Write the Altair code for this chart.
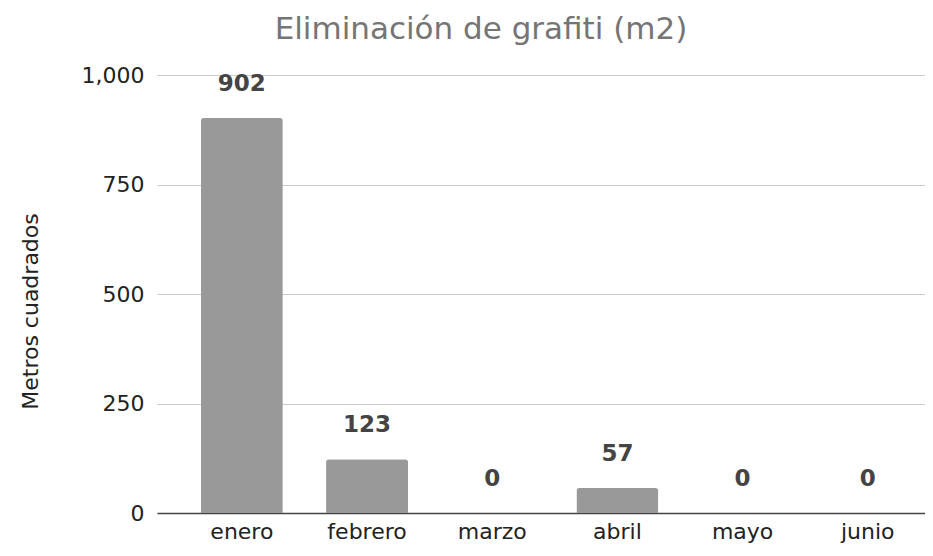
import altair as alt
import pandas as pd

months = ["enero", "febrero", "marzo", "abril", "mayo", "junio"]
values = [902, 123, 0, 57, 0, 0]
y_ticks = [0, 250, 500, 750, 1000]

df = pd.DataFrame({"mes": months, "m2": values})

FONT = "DejaVu Sans"

x_enc = alt.X(
    "mes:N",
    sort=months,
    title=None,
    scale=alt.Scale(paddingInner=0.345, paddingOuter=0.24, align=0.73),
    axis=alt.Axis(
        labelAngle=0,
        labelFontSize=22,
        labelColor="#222222",
        labelFont=FONT,
        labelPadding=8,
        ticks=False,
        domainColor="#444444",
        domainWidth=1.5,
        grid=False,
    ),
)

y_enc = alt.Y(
    "m2:Q",
    title="Metros cuadrados",
    scale=alt.Scale(domain=[0, 1000], nice=False),
    axis=alt.Axis(
        values=y_ticks,
        format=",d",
        labelFontSize=22,
        labelColor="#222222",
        labelFont=FONT,
        labelPadding=13,
        ticks=False,
        domain=False,
        gridColor="#cccccc",
        gridWidth=1,
        titleFontSize=22,
        titleFont=FONT,
        titleFontWeight="normal",
        titleColor="#222222",
        titleX=-127,
        titleY=236,
        titleAlign="center",
        titleBaseline="middle",
        titleAngle=270,
    ),
)

bars = alt.Chart(df).mark_bar(
    color="#999999", cornerRadiusTopLeft=3, cornerRadiusTopRight=3
).encode(x=x_enc, y=y_enc)

labels = alt.Chart(df).mark_text(
    dy=-27,
    baseline="alphabetic",
    fontWeight="bold",
    fontSize=23,
    font=FONT,
    color="#444444",
).encode(x=alt.X("mes:N", sort=months), y=alt.Y("m2:Q"), text=alt.Text("m2:Q"))

chart = (
    alt.layer(bars, labels)
    .properties(
        width=768,
        height=438,
        title=alt.TitleParams(
            "Eliminación de grafiti (m2)",
            fontSize=31,
            font=FONT,
            fontWeight="normal",
            color="#757575",
            anchor="middle",
            dx=-60,
            dy=-14,
        ),
        padding={"left": 149, "top": 67, "right": 0, "bottom": 32},
        autosize=alt.AutoSizeParams(type="none"),
    )
    .configure_view(stroke=None)
)

chart.save("out.html", embed_options={"renderer": "svg", "actions": False})
